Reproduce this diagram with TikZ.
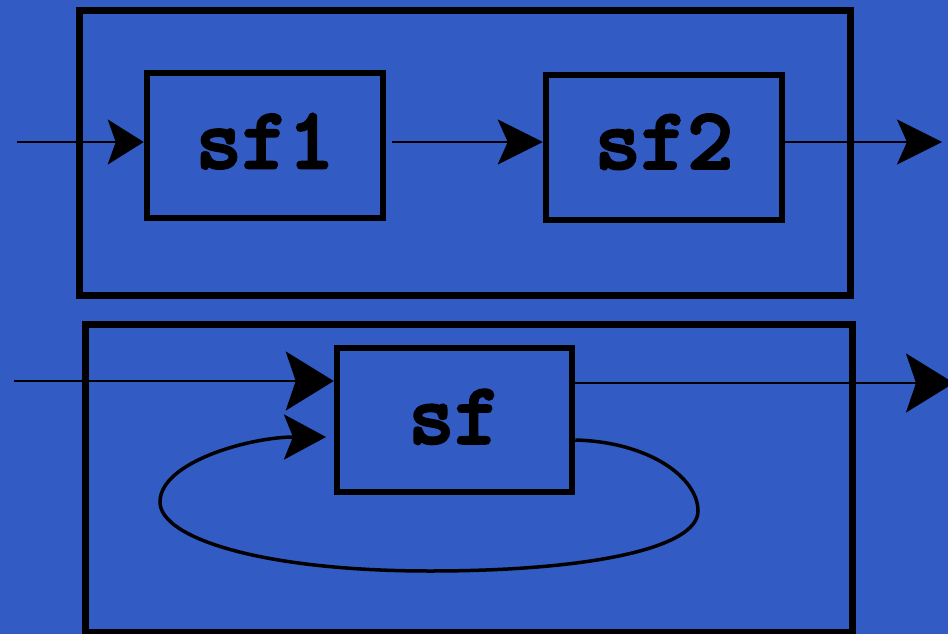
\documentclass[tikz,border=0pt]{standalone}
\usepackage{fontspec}
\newfontfamily\codefont{lmmonolt10-bold.otf}[FakeBold=2.5]
\usetikzlibrary{arrows.meta}
\definecolor{bg}{RGB}{51,91,196}
\begin{document}
\begin{tikzpicture}[x=1pt,y=-1pt,
  frame/.style={draw=black,line width=7pt},
  block/.style={draw=black,line width=6.5pt,inner sep=0pt,
    font=\fontsize{88}{88}\selectfont\codefont},
  wire/.style={draw=black,line width=2.5pt},
  tipA/.style={-{Stealth[length=36pt,width=45pt,inset=8pt]}},
  tipB/.style={-{Stealth[length=45pt,width=45pt,inset=10pt]}},
  tipC/.style={-{Stealth[length=48pt,width=59pt,inset=10pt]}},
  tipD/.style={-{Stealth[length=42pt,width=45pt,inset=9pt]}}]
\useasboundingbox (0,0) rectangle (948,634);
\clip (0,0) rectangle (948,634);
\fill[bg] (0,0) rectangle (948,634);

% upper composition: sf1 >>> sf2
\draw[frame] (79,11) rectangle (850,295);
\node[block,minimum width=236pt,minimum height=145pt] (sfA) at (265,145.5) {\raisebox{9pt}{sf1}};
\node[block,minimum width=236pt,minimum height=145pt] (sfB) at (664,147.5) {\raisebox{12pt}{sf2}};
\coordinate (inA) at (17,142);
\coordinate (outA) at (942,142);
\draw[wire,tipA] (inA) -- (inA -| sfA.west);
\draw[wire,tipB] (392,142) -- (392,142 -| sfB.west);
\draw[wire,tipB] (sfB.east |- outA) -- (outA);

% lower composition: loop around sf
\draw[frame] (85,324) rectangle (852,632);
\node[block,minimum width=235pt,minimum height=144pt] (sfC) at (454.5,420) {\raisebox{7pt}{sf}};
\coordinate (inC) at (14,381);
\coordinate (outC) at (954,383);
\coordinate (fbEnd) at (326,437);
\draw[wire,tipC] (inC) -- (inC -| sfC.west);
\draw[wire,tipC] (sfC.east |- outC) -- (outC);
\draw[black,line width=3.5pt,tipD]
  (sfC.east |- 0,440) .. controls (650,442) and (698,478) .. (698,511)
  .. controls (698,548) and (590,571) .. (430,571)
  .. controls (262,571) and (160,538) .. (160,502)
  .. controls (160,462) and (250,437) .. (fbEnd);
\end{tikzpicture}
\end{document}
